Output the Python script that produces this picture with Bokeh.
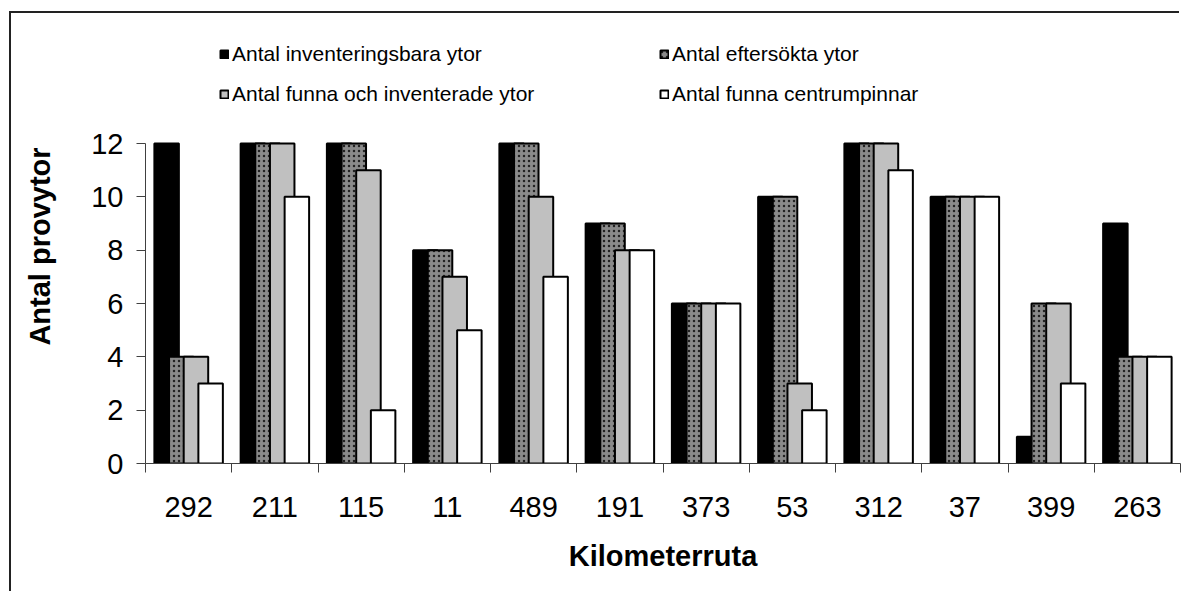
from bokeh.plotting import figure
from bokeh.models import Range1d, FixedTicker, Legend, LegendItem, ColumnDataSource
from bokeh.transform import dodge
from bokeh.embed import file_html
from bokeh.resources import INLINE

# ---- data ----
categories = ["292", "211", "115", "11", "489", "191", "373", "53", "312", "37", "399", "263"]
inventeringsbara = [12, 12, 12, 8, 12, 9, 6, 10, 12, 10, 1, 9]
eftersokta = [4, 12, 12, 8, 12, 9, 6, 10, 12, 10, 6, 4]
funna_inventerade = [4, 12, 11, 7, 10, 8, 6, 3, 12, 10, 6, 4]
centrumpinnar = [3, 10, 2, 5, 7, 8, 6, 2, 11, 10, 3, 4]
series_names = ["Antal inventeringsbara ytor", "Antal eftersökta ytor",
                "Antal funna och inventerade ytor", "Antal funna centrumpinnar"]
y_ticks = [0, 2, 4, 6, 8, 10, 12]
x_title = "Kilometerruta"
y_title = "Antal provytor"

FONT = "Liberation Sans"
idx = list(range(len(categories)))
source = ColumnDataSource(dict(idx=idx, s0=inventeringsbara, s1=eftersokta,
                               s2=funna_inventerade, s3=centrumpinnar))

# frame extends above the value axis (to hold the legend); axis line is bounded to 0..12
p = figure(width=1170, height=580, output_backend="svg", toolbar_location=None,
           x_range=Range1d(-0.5, len(categories) - 0.5), y_range=Range1d(0, 16.275),
           min_border_left=134, min_border_right=1, min_border_top=16, min_border_bottom=130)
p.outline_line_color = None
p.xgrid.visible = False
p.ygrid.visible = False
p.background_fill_color = "white"
p.border_fill_color = "white"
# outer chart border (only left and top edges visible, as in the reference crop)
p.styles = {"margin-left": "11px", "margin-top": "13px",
            "box-shadow": "-2px -2px 0px 0px #222222"}

offsets = [-0.255, -0.085, 0.085, 0.255]
bw = 0.284
styles = [
    dict(fill_color="black"),
    dict(fill_color="#8a8a8a", hatch_pattern="dot", hatch_color="black", hatch_scale=5,
         hatch_weight=1, hatch_alpha=0.75),
    dict(fill_color="#c0c0c0"),
    dict(fill_color="white"),
]
renderers = []
for k in range(4):
    r = p.vbar(x=dodge("idx", offsets[k], range=p.x_range), top="s%d" % k, width=bw,
               source=source, line_color="black", line_width=2, **styles[k])
    renderers.append(r)

# axes
xa = p.xaxis[0]
xa.ticker = FixedTicker(ticks=idx, minor_ticks=[i - 0.5 for i in range(len(categories) + 1)])
xa.major_label_overrides = {i: c for i, c in zip(idx, categories)}
xa.major_tick_out = 9
xa.major_tick_in = 0
xa.major_tick_line_color = None
xa.minor_tick_out = 9
xa.minor_tick_in = 0
xa.minor_tick_line_color = "#404040"
xa.axis_line_color = "#404040"
xa.major_label_text_font = FONT
xa.major_label_text_font_size = "29px"
xa.major_label_text_color = "black"
xa.major_label_standoff = 24
xa.axis_label = x_title
xa.axis_label_text_font = FONT
xa.axis_label_text_font_size = "29px"
xa.axis_label_text_font_style = "bold"
xa.axis_label_text_color = "black"
xa.axis_label_standoff = 20

ya = p.yaxis[0]
ya.ticker = FixedTicker(ticks=y_ticks)
ya.bounds = (y_ticks[0], y_ticks[-1])
ya.major_tick_out = 9
ya.major_tick_in = 0
ya.minor_tick_line_color = None
ya.major_tick_line_color = "#404040"
ya.axis_line_color = "#404040"
ya.major_label_text_font = FONT
ya.major_label_text_font_size = "29px"
ya.major_label_text_color = "black"
ya.major_label_standoff = 13
ya.axis_label = y_title
ya.axis_label_text_font = FONT
ya.axis_label_text_font_size = "29px"
ya.axis_label_text_font_style = "bold"
ya.axis_label_text_color = "black"
ya.axis_label_standoff = 32

# legend: two columns
def make_legend(ks, x):
    return Legend(items=[LegendItem(label=series_names[k], renderers=[renderers[k]]) for k in ks],
                  location=(x, 357), orientation="vertical",
                  label_text_font=FONT, label_text_font_size="21px", label_text_color="black",
                  glyph_width=10, glyph_height=10, label_standoff=3, spacing=16,
                  padding=0, margin=0, border_line_color=None, background_fill_alpha=0)

p.add_layout(make_legend([0, 2], 74), "center")
p.add_layout(make_legend([1, 3], 514), "center")

open("out.html", "w").write(file_html(p, INLINE))
